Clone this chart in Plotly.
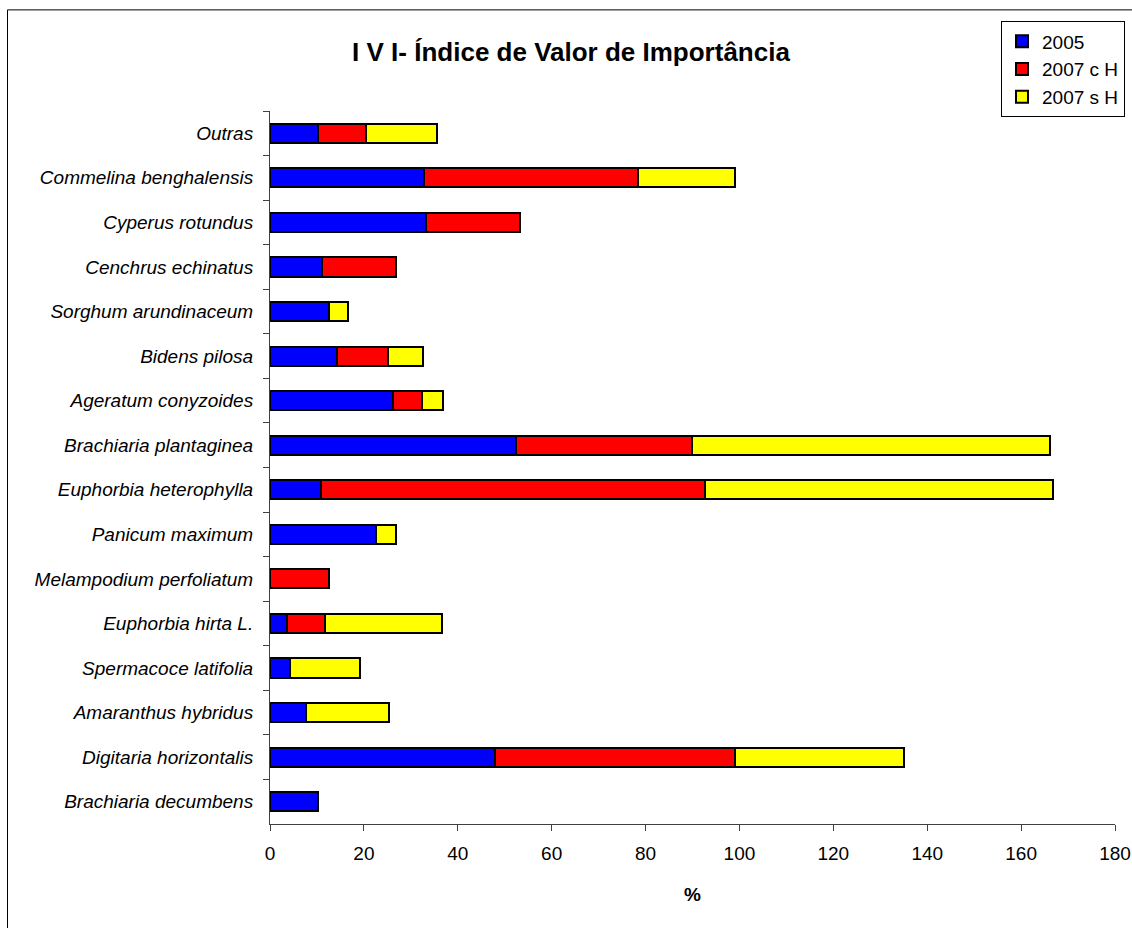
import plotly.graph_objects as go

categories = [
    "Outras", "Commelina benghalensis", "Cyperus rotundus", "Cenchrus echinatus",
    "Sorghum arundinaceum", "Bidens pilosa", "Ageratum conyzoides",
    "Brachiaria plantaginea", "Euphorbia heterophylla", "Panicum maximum",
    "Melampodium perfoliatum", "Euphorbia hirta L.", "Spermacoce latifolia",
    "Amaranthus hybridus", "Digitaria horizontalis", "Brachiaria decumbens",
]
v2005 = [10.3, 32.7, 33.2, 11.0, 12.6, 14.3, 26.3, 52.4, 10.8, 22.6, None, 3.7, 4.3, 7.7, 47.9, 10.3]
v2007_cH = [10.1, 45.6, 20.1, 15.8, None, 10.9, 6.1, 37.4, 81.8, None, 12.6, 8.1, None, None, 51.2, None]
v2007_sH = [15.2, 20.8, None, None, 4.0, 7.3, 4.5, 76.4, 74.2, 4.2, None, 24.8, 14.8, 17.7, 36.0, None]
series_names = ["2005", "2007 c H", "2007 s H"]
series_colors = ["#0000FF", "#FF0000", "#FFFF00"]
x_ticks = [0, 20, 40, 60, 80, 100, 120, 140, 160, 180]

FONT = "Liberation Sans, Arial, sans-serif"

fig = go.Figure()
for name, vals, col in zip(series_names, [v2005, v2007_cH, v2007_sH], series_colors):
    fig.add_trace(go.Bar(
        y=categories, x=vals, name=name, orientation="h", legendgroup=name,
        marker=dict(color=col, line=dict(color="black", width=2)),
    ))

W, H = 1132, 928
L, R, T, B = 270, 1115, 110.7, 824.3
pw, ph = R - L, B - T

def px(x):
    return (x - L) / pw

def py(y):
    return (B - y) / ph

fig.update_layout(
    width=W, height=H,
    margin=dict(l=L, r=W - R, t=T, b=H - B, autoexpand=False),
    barmode="stack", bargap=0.57,
    paper_bgcolor="white", plot_bgcolor="white",
    font=dict(family=FONT, size=19, color="black"),
    title=dict(text="<b>I V I- Índice de Valor de Importância</b>",
               font=dict(family=FONT, size=26, color="black"),
               x=px(571), xref="paper", xanchor="center",
               y=1 - 52 / H, yref="container", yanchor="middle"),
    legend=dict(x=px(1125), y=py(21), xanchor="right", yanchor="top",
                bordercolor="black", borderwidth=1, bgcolor="white",
                traceorder="normal", font=dict(family=FONT, size=19),
                itemwidth=30, tracegroupgap=3),
    xaxis=dict(range=[0, 180], tickvals=x_ticks, showgrid=False, zeroline=False,
               showline=True, linecolor="#404040", linewidth=1,
               ticks="outside", ticklen=6, tickcolor="#404040",
               ticklabelstandoff=6,
               tickfont=dict(family=FONT, size=19, color="black"),
               title=dict(text="<b>%</b>", font=dict(family=FONT, size=19), standoff=24)),
    yaxis=dict(autorange="reversed", showgrid=False, zeroline=False,
               showline=True, linecolor="#404040", linewidth=1,
               ticks="outside", ticklen=6, tickcolor="#404040", tickson="boundaries",
               ticklabelstandoff=12,
               tickfont=dict(family=FONT, size=19, color="black", style="italic")),
    shapes=[dict(type="rect", xref="paper", yref="paper",
                 x0=px(7.5), x1=px(1145), y0=py(940), y1=py(9.5),
                 line=dict(color="black", width=1), layer="below")],
)

fig.write_html("out.html", config={"displayModeBar": False},
               post_script="document.body.style.margin='0';document.body.style.overflow='hidden';")
